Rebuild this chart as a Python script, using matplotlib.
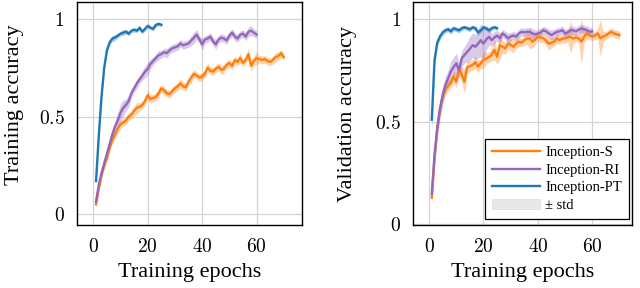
import matplotlib
matplotlib.use('Agg')
import matplotlib.pyplot as plt
from matplotlib.patches import Patch
from matplotlib.lines import Line2D
import numpy as np

# training accuracy (mean) per epoch
train_s = [0.05, 0.13, 0.20, 0.25, 0.29, 0.34, 0.38, 0.41, 0.44, 0.46,
           0.47, 0.48, 0.50, 0.51, 0.53, 0.545, 0.55, 0.56, 0.58, 0.61,
           0.59, 0.595, 0.60, 0.62, 0.645, 0.635, 0.62, 0.615, 0.63, 0.645,
           0.655, 0.67, 0.655, 0.65, 0.68, 0.70, 0.72, 0.71, 0.70, 0.705,
           0.72, 0.75, 0.735, 0.73, 0.745, 0.755, 0.74, 0.745, 0.765, 0.775,
           0.76, 0.79, 0.78, 0.80, 0.775, 0.79, 0.82, 0.76, 0.785, 0.80,
           0.795, 0.79, 0.795, 0.785, 0.78, 0.79, 0.805, 0.81, 0.825, 0.805]
train_ri = [0.065, 0.15, 0.21, 0.26, 0.31, 0.36, 0.41, 0.45, 0.48, 0.52,
            0.545, 0.56, 0.58, 0.62, 0.645, 0.67, 0.69, 0.71, 0.73, 0.745,
            0.77, 0.785, 0.80, 0.815, 0.82, 0.83, 0.825, 0.84, 0.85, 0.855,
            0.86, 0.875, 0.865, 0.87, 0.875, 0.89, 0.905, 0.92, 0.895, 0.87,
            0.895, 0.90, 0.91, 0.885, 0.87, 0.895, 0.905, 0.90, 0.89, 0.915,
            0.93, 0.91, 0.90, 0.92, 0.925, 0.91, 0.935, 0.94, 0.93, 0.92]
train_pt = [0.17, 0.40, 0.60, 0.75, 0.84, 0.88, 0.90, 0.905, 0.915, 0.925,
            0.93, 0.935, 0.925, 0.94, 0.945, 0.94, 0.955, 0.935, 0.95, 0.965,
            0.955, 0.95, 0.97, 0.975, 0.97]

# training accuracy std
train_s_std = [0.01, 0.015, 0.02, 0.02, 0.02, 0.02, 0.02, 0.02, 0.025, 0.02,
               0.02, 0.02, 0.02, 0.02, 0.025, 0.03, 0.02, 0.02, 0.02, 0.025,
               0.02, 0.02, 0.02, 0.025, 0.02, 0.02, 0.02, 0.02, 0.02, 0.02,
               0.02, 0.025, 0.02, 0.02, 0.02, 0.025, 0.02, 0.02, 0.02, 0.02,
               0.02, 0.025, 0.02, 0.02, 0.02, 0.02, 0.025, 0.02, 0.02, 0.02,
               0.02, 0.02, 0.02, 0.025, 0.02, 0.02, 0.03, 0.03, 0.02, 0.035,
               0.02, 0.02, 0.02, 0.02, 0.02, 0.02, 0.025, 0.02, 0.02, 0.02]
train_ri_std = [0.01, 0.015, 0.02, 0.02, 0.02, 0.025, 0.025, 0.03, 0.04, 0.045,
                0.04, 0.03, 0.03, 0.025, 0.02, 0.025, 0.02, 0.025, 0.03, 0.035,
                0.025, 0.02, 0.02, 0.025, 0.02, 0.02, 0.025, 0.02, 0.02, 0.02,
                0.02, 0.02, 0.02, 0.02, 0.02, 0.025, 0.03, 0.025, 0.02, 0.03,
                0.02, 0.02, 0.02, 0.02, 0.025, 0.02, 0.02, 0.02, 0.02, 0.02,
                0.02, 0.02, 0.02, 0.02, 0.02, 0.02, 0.025, 0.025, 0.02, 0.02]
train_pt_std = [0.01, 0.01, 0.01, 0.01, 0.012, 0.015, 0.015, 0.015, 0.012, 0.012,
                0.015, 0.012, 0.012, 0.01, 0.012, 0.01, 0.012, 0.01, 0.012, 0.01,
                0.01, 0.012, 0.01, 0.01, 0.01]

# validation accuracy (mean) per epoch
val_s = [0.13, 0.32, 0.47, 0.565, 0.62, 0.66, 0.675, 0.69, 0.72, 0.695,
         0.76, 0.73, 0.695, 0.765, 0.77, 0.776, 0.79, 0.768, 0.785, 0.80,
         0.808, 0.815, 0.825, 0.85, 0.816, 0.873, 0.865, 0.857, 0.88, 0.875,
         0.865, 0.88, 0.89, 0.885, 0.897, 0.905, 0.906, 0.89, 0.90, 0.914,
         0.91, 0.906, 0.895, 0.88, 0.885, 0.89, 0.906, 0.897, 0.905, 0.906,
         0.91, 0.914, 0.905, 0.91, 0.906, 0.89, 0.915, 0.93, 0.92, 0.914,
         0.92, 0.93, 0.906, 0.915, 0.92, 0.93, 0.938, 0.93, 0.925, 0.922]
val_ri = [0.15, 0.34, 0.47, 0.56, 0.63, 0.68, 0.71, 0.745, 0.765, 0.784,
          0.75, 0.808, 0.825, 0.84, 0.855, 0.873, 0.865, 0.88, 0.897, 0.88,
          0.90, 0.914, 0.897, 0.91, 0.92, 0.906, 0.93, 0.92, 0.906, 0.915,
          0.92, 0.914, 0.93, 0.938, 0.935, 0.938, 0.938, 0.93, 0.925, 0.93,
          0.935, 0.946, 0.94, 0.93, 0.922, 0.93, 0.938, 0.94, 0.946, 0.93,
          0.935, 0.946, 0.945, 0.94, 0.948, 0.954, 0.95, 0.946, 0.938, 0.94]
val_pt = [0.51, 0.80, 0.885, 0.915, 0.935, 0.945, 0.95, 0.94, 0.955, 0.95,
          0.945, 0.955, 0.96, 0.955, 0.95, 0.96, 0.955, 0.935, 0.945, 0.96,
          0.955, 0.945, 0.955, 0.96, 0.955]

# validation accuracy std
val_s_std = [0.03, 0.04, 0.04, 0.035, 0.03, 0.03, 0.025, 0.025, 0.03, 0.03,
             0.03, 0.04, 0.06, 0.03, 0.025, 0.025, 0.03, 0.03, 0.025, 0.04,
             0.03, 0.025, 0.03, 0.05, 0.035, 0.07, 0.03, 0.03, 0.025, 0.03,
             0.03, 0.025, 0.025, 0.02, 0.025, 0.03, 0.05, 0.03, 0.025, 0.02,
             0.025, 0.02, 0.025, 0.03, 0.025, 0.02, 0.025, 0.02, 0.02, 0.025,
             0.02, 0.08, 0.025, 0.02, 0.02, 0.11, 0.03, 0.025, 0.02, 0.02,
             0.02, 0.025, 0.09, 0.025, 0.02, 0.02, 0.02, 0.02, 0.02, 0.02]
val_ri_std = [0.03, 0.04, 0.05, 0.05, 0.04, 0.04, 0.04, 0.05, 0.05, 0.05,
              0.04, 0.04, 0.04, 0.05, 0.06, 0.06, 0.06, 0.07, 0.08, 0.08,
              0.05, 0.04, 0.03, 0.03, 0.025, 0.025, 0.02, 0.02, 0.025, 0.02,
              0.02, 0.02, 0.02, 0.02, 0.02, 0.02, 0.02, 0.025, 0.02, 0.02,
              0.02, 0.02, 0.02, 0.02, 0.025, 0.02, 0.02, 0.02, 0.02, 0.02,
              0.02, 0.02, 0.02, 0.02, 0.02, 0.02, 0.02, 0.02, 0.02, 0.02]
val_pt_std = [0.06, 0.03, 0.02, 0.015, 0.015, 0.012, 0.012, 0.015, 0.012, 0.012,
              0.012, 0.012, 0.01, 0.012, 0.012, 0.01, 0.012, 0.015, 0.012, 0.01,
              0.012, 0.012, 0.012, 0.01, 0.01]

xticks = [0, 20, 40, 60]
xtick_labels = ['$0$', '$20$', '$40$', '$60$']
yticks = [0, 0.5, 1]
ytick_labels = ['$0$', '$0.5$', '$1$']

names = ['Inception-S', 'Inception-RI', 'Inception-PT']
colors = ['#ff7f0e', '#9467bd', '#1f77b4']

plt.rcParams['font.family'] = ['Liberation Serif', 'DejaVu Serif']
plt.rcParams['mathtext.fontset'] = 'cm'

fig = plt.figure(figsize=(6.4, 2.88), dpi=100)
ax1 = fig.add_axes([0.1203, 0.2187, 0.3516, 0.7743])
ax2 = fig.add_axes([0.6458, 0.2187, 0.3413, 0.7743])


def draw(ax, series, stds):
    for vals, sd, c in zip(series, stds, colors):
        vals = np.array(vals)
        sd = np.array(sd)
        ep = np.arange(1, len(vals) + 1)
        ax.fill_between(ep, vals - sd, vals + sd, color=c, alpha=0.35, lw=0)
        ax.plot(ep, vals, color=c, lw=1.7)
    ax.set_xticks(xticks)
    ax.set_xticklabels(xtick_labels)
    ax.set_yticks(yticks)
    ax.set_yticklabels(ytick_labels)
    ax.grid(True, color='#d5d5d5', lw=0.9)
    ax.set_axisbelow(True)
    ax.tick_params(direction='in', length=0, labelsize=14, pad=9)
    for s in ax.spines.values():
        s.set_linewidth(1.0)
    ax.set_xlabel('Training epochs', fontsize=16)
    ax.xaxis.set_label_coords(0.5, -0.17)


draw(ax1, [train_s, train_ri, train_pt], [train_s_std, train_ri_std, train_pt_std])
ax1.set_xlim(-6.0, 76.7)
ax1.set_ylim(-0.055, 1.087)
ax1.set_ylabel('Training accuracy', fontsize=16)
ax1.yaxis.set_label_coords(-0.236, 0.54)

draw(ax2, [val_s, val_ri, val_pt], [val_s_std, val_ri_std, val_pt_std])
ax2.set_xlim(-5.8, 74.5)
ax2.set_ylim(-0.003, 1.083)
ax2.set_ylabel('Validation accuracy', fontsize=16)
ax2.yaxis.set_label_coords(-0.258, 0.5)

handles = [Line2D([], [], color=c, lw=1.7) for c in colors]
handles.append(Patch(facecolor='#e8e8e8', edgecolor='#dddddd', lw=0.5))
leg = ax2.legend(handles, names + ['± std'], loc='lower right',
                 bbox_to_anchor=(0.988, 0.026), borderaxespad=0,
                 fontsize=10.5, handlelength=3.3, handletextpad=0.35,
                 labelspacing=0.3, borderpad=0.5, fancybox=False,
                 framealpha=1, edgecolor='black')
leg.get_frame().set_linewidth(0.9)

fig.savefig('out.png', dpi=100)
